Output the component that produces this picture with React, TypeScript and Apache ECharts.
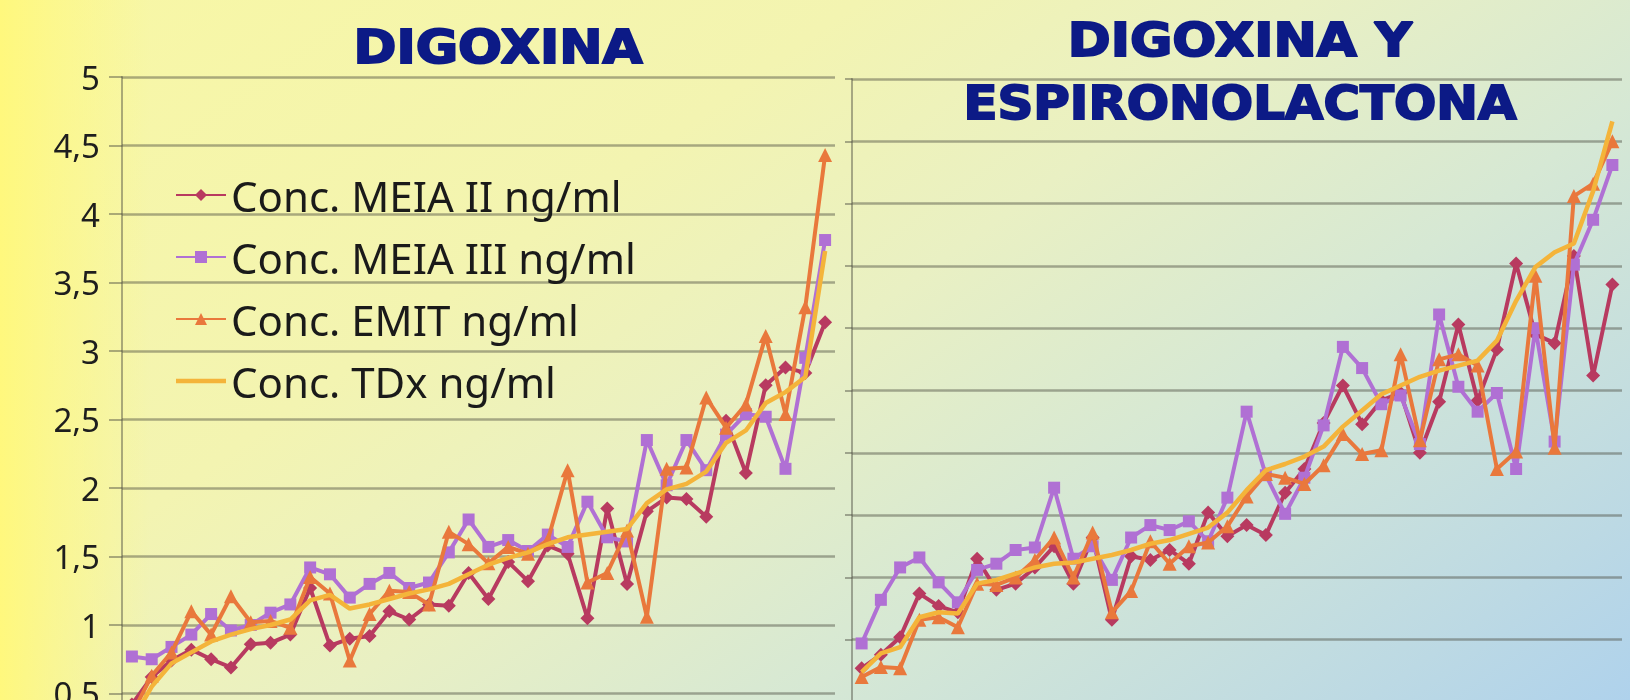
import React, { useEffect, useRef } from "react";
import * as echarts from "echarts";

const seriesNames = [
  "Conc. MEIA II ng/ml",
  "Conc. MEIA III ng/ml",
  "Conc. EMIT ng/ml",
  "Conc. TDx ng/ml",
];
const yTickLabels = ["0", "0,5", "1", "1,5", "2", "2,5", "3", "3,5", "4", "4,5", "5"];
const titleLeft = "DIGOXINA";
const titleRight1 = "DIGOXINA Y";
const titleRight2 = "ESPIRONOLACTONA";

const leftCategories = [
  "1","2","3","4","5","6","7","8","9","10","11","12","13","14","15","16","17","18",
  "19","20","21","22","23","24","25","26","27","28","29","30","31","32","33","34","35","36",
];
const rightCategories = [
  "1","2","3","4","5","6","7","8","9","10","11","12","13","14","15","16","17","18","19","20",
  "21","22","23","24","25","26","27","28","29","30","31","32","33","34","35","36","37","38","39","40",
];

const leftMeia2 = [0.42,0.62,0.74,0.82,0.75,0.69,0.86,0.87,0.93,1.27,0.85,0.90,0.92,1.10,1.04,1.15,1.14,1.38,1.19,1.46,1.32,1.58,1.52,1.05,1.85,1.30,1.83,1.93,1.92,1.79,2.49,2.11,2.75,2.88,2.84,3.21];
const leftMeia3 = [0.77,0.75,0.84,0.93,1.08,0.96,1.00,1.09,1.15,1.42,1.37,1.20,1.30,1.38,1.27,1.31,1.53,1.77,1.57,1.62,1.54,1.66,1.57,1.90,1.64,1.61,2.35,2.02,2.35,2.13,2.39,2.54,2.52,2.14,2.95,3.81];
const leftEmit = [0.35,0.63,0.80,1.10,0.93,1.21,1.02,1.03,0.98,1.35,1.23,0.74,1.08,1.25,1.24,1.15,1.68,1.59,1.45,1.57,1.52,1.62,2.13,1.31,1.38,1.69,1.06,2.14,2.15,2.66,2.44,2.61,3.11,2.54,3.32,4.43];
const leftTdx = [0.30,0.55,0.72,0.80,0.88,0.93,0.97,1.00,1.04,1.18,1.22,1.12,1.15,1.19,1.23,1.26,1.30,1.37,1.44,1.49,1.53,1.59,1.64,1.66,1.68,1.70,1.89,1.99,2.03,2.12,2.33,2.42,2.62,2.70,2.81,3.73];

const rightMeia2 = [0.27,0.38,0.52,0.87,0.77,0.72,1.15,0.90,0.95,1.08,1.25,0.95,1.32,0.66,1.17,1.14,1.22,1.11,1.52,1.33,1.42,1.34,1.68,1.87,2.24,2.54,2.23,2.42,2.48,2.00,2.41,3.03,2.42,2.83,3.52,2.95,2.88,3.58,2.62,3.35];
const rightMeia3 = [0.47,0.82,1.08,1.16,0.96,0.80,1.06,1.11,1.22,1.24,1.72,1.15,1.25,0.98,1.32,1.42,1.38,1.45,1.29,1.64,2.33,1.82,1.51,1.80,2.22,2.85,2.68,2.39,2.46,2.07,3.11,2.53,2.33,2.48,1.87,3.00,2.09,3.51,3.87,4.31];
const rightEmit = [0.20,0.28,0.27,0.66,0.68,0.60,0.95,0.94,1.00,1.14,1.32,1.00,1.36,0.72,0.89,1.29,1.11,1.25,1.28,1.41,1.65,1.83,1.80,1.75,1.90,2.15,1.99,2.02,2.79,2.10,2.75,2.79,2.70,1.87,2.01,3.42,2.04,4.06,4.16,4.50];
const rightTdx = [0.24,0.39,0.44,0.68,0.72,0.71,0.95,0.98,1.03,1.08,1.11,1.12,1.15,1.18,1.22,1.27,1.30,1.35,1.40,1.52,1.70,1.86,1.91,1.97,2.05,2.21,2.34,2.47,2.54,2.61,2.66,2.70,2.74,2.90,3.22,3.49,3.61,3.68,4.10,4.66];

const COLORS = ["#b83a60", "#b070d4", "#e9783c", "#f4b43a"];
const SYMBOLS = ["diamond", "rect", "triangle", "none"];
const SYMBOL_SIZES = [14, 12, 14, 0];

export default function App() {
  const ref = useRef<HTMLDivElement>(null);

  useEffect(() => {
    if (!ref.current) return;
    const chart = echarts.init(ref.current, undefined, { renderer: "svg" });
    const W = 1630;
    const H = 780;
    const grid = "rgba(75,75,65,0.45)";

    const makeSeries = (arrs: number[][], idx: number) =>
      arrs.map((d, k) => ({
        name: seriesNames[k],
        type: "line",
        xAxisIndex: idx,
        yAxisIndex: idx,
        data: d,
        symbol: SYMBOLS[k],
        symbolSize: SYMBOL_SIZES[k],
        showSymbol: SYMBOLS[k] !== "none",
        showAllSymbol: true,
        color: COLORS[k],
        lineStyle: { color: COLORS[k], width: k === 3 ? 4.5 : 4 },
        itemStyle: { color: COLORS[k] },
        emphasis: { disabled: true },
        z: 2 + k,
      }));

    const titleStyle = (text: string) => ({
      text,
      font: 'bold 47px "DejaVu Sans"',
      fill: "#0c1a86",
      stroke: "#0c1a86",
      lineWidth: 2,
      align: "center",
      verticalAlign: "middle",
      textAlign: "center",
      textVerticalAlign: "middle",
    });

    chart.setOption({
      animation: false,
      graphic: [
        {
          type: "rect",
          z: -100,
          silent: true,
          shape: { x: 0, y: 0, width: W, height: H },
          style: {
            fill: new echarts.graphic.LinearGradient(
              0, 0, 883, 1234,
              [
                { offset: 0, color: "#f8f7a4" },
                { offset: 0.33, color: "#f3f4b1" },
                { offset: 0.5, color: "#e9f0c3" },
                { offset: 0.68, color: "#d6e8d4" },
                { offset: 0.9, color: "#bcd9e4" },
                { offset: 1, color: "#afd2ec" },
              ],
              true
            ),
          },
        },
        {
          type: "rect",
          z: -99,
          silent: true,
          shape: { x: 0, y: 0, width: 150, height: H },
          style: {
            fill: new echarts.graphic.LinearGradient(0, 0, 1, 0, [
              { offset: 0, color: "rgba(255,248,125,1)" },
              { offset: 0.35, color: "rgba(255,248,125,0.6)" },
              { offset: 1, color: "rgba(255,248,125,0)" },
            ]),
          },
        },
        { type: "text", x: 498, y: 47, scaleX: 1.1, z: 10, style: titleStyle(titleLeft) },
        { type: "text", x: 1240, y: 40, scaleX: 1.1, z: 10, style: titleStyle(titleRight1) },
        { type: "text", x: 1240, y: 103, scaleX: 1.06, z: 10, style: titleStyle(titleRight2) },
      ],
      legend: {
        orient: "vertical",
        left: 170,
        top: 168,
        itemWidth: 50,
        itemHeight: 15,
        itemGap: 18,
        data: [
          seriesNames[0],
          seriesNames[1],
          seriesNames[2],
          { name: seriesNames[3], icon: "path://M0 0 L50 0 L50 4.5 L0 4.5 Z" },
        ],
        textStyle: {
          fontFamily: "Noto Sans",
          fontSize: 42,
          lineHeight: 44,
          color: "#1a1a1a",
        },
      },
      grid: [
        { left: 122, top: 77, width: 713, height: 685 },
        { left: 852, top: 79, width: 770, height: 623 },
      ],
      xAxis: [
        {
          type: "category",
          gridIndex: 0,
          data: leftCategories,
          boundaryGap: true,
          axisLine: { show: true, lineStyle: { color: grid, width: 2 } },
          axisTick: { show: false },
          axisLabel: { show: false },
          splitLine: { show: false },
        },
        {
          type: "category",
          gridIndex: 1,
          data: rightCategories,
          boundaryGap: true,
          axisLine: { show: true, lineStyle: { color: grid, width: 2 } },
          axisTick: { show: false },
          axisLabel: { show: false },
          splitLine: { show: false },
        },
      ],
      yAxis: [
        {
          type: "value",
          gridIndex: 0,
          min: 0,
          max: 5,
          interval: 0.5,
          axisLine: { show: true, lineStyle: { color: grid, width: 2 } },
          axisTick: { show: true, length: 13, lineStyle: { color: grid, width: 2 } },
          axisLabel: {
            show: true,
            margin: 22,
            fontFamily: "Noto Sans",
            fontSize: 33,
            color: "#1e1e1e",
            formatter: (v: number) => yTickLabels[Math.round(v / 0.5)],
          },
          splitLine: { show: true, lineStyle: { color: grid, width: 2.5 } },
        },
        {
          type: "value",
          gridIndex: 1,
          min: 0,
          max: 5,
          interval: 0.5,
          axisLine: { show: true, lineStyle: { color: grid, width: 2 } },
          axisTick: { show: true, length: 7, lineStyle: { color: grid, width: 2 } },
          axisLabel: { show: false },
          splitLine: { show: true, lineStyle: { color: grid, width: 2.5 } },
        },
      ],
      series: [
        ...makeSeries([leftMeia2, leftMeia3, leftEmit, leftTdx], 0),
        ...makeSeries([rightMeia2, rightMeia3, rightEmit, rightTdx], 1),
      ],
    });

    return () => chart.dispose();
  }, []);

  return (
    <div
      style={{
        position: "fixed",
        left: 0,
        top: 0,
        width: 1630,
        height: 700,
        overflow: "hidden",
      }}
    >
      <div ref={ref} style={{ width: 1630, height: 780 }} />
    </div>
  );
}
